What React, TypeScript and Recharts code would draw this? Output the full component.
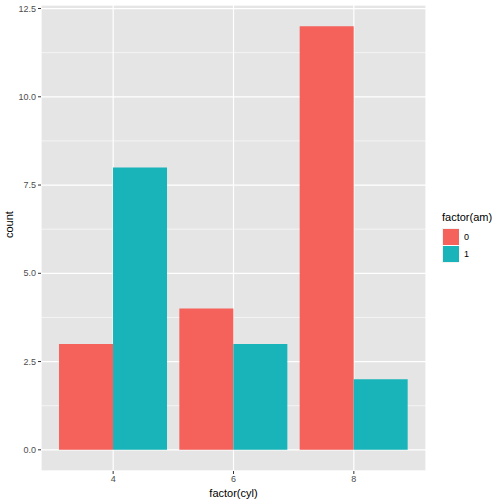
import { BarChart, Bar, XAxis, YAxis, CartesianGrid } from 'recharts';

const cyl = ['4', '6', '8'];
const am0 = [3, 4, 12];
const am1 = [8, 3, 2];
const yTicks = [0, 2.5, 5, 7.5, 10, 12.5];
const yMinor = [1.25, 3.75, 6.25, 8.75, 11.25];
const amLevels = ['0', '1'];

const COLORS = ['#F5625C', '#19B4B9'];
const FONT = '"Liberation Sans", Arial, Helvetica, sans-serif';

const data = cyl.map((c, i) => ({ cyl: c, am0: am0[i], am1: am1[i] }));

function AmLegend() {
  return (
    <div style={{ position: 'absolute', left: 442, top: 211, fontFamily: FONT, color: '#000' }}>
      <div style={{ fontSize: 11, marginBottom: 5 }}>factor(am)</div>
      {amLevels.map((lv, i) => (
        <div key={lv} style={{ display: 'flex', alignItems: 'center', height: 17, marginTop: i ? 0.5 : 0 }}>
          <div style={{ width: 17, height: 17, background: '#F2F2F2', display: 'flex', alignItems: 'center', justifyContent: 'center' }}>
            <div style={{ width: 16, height: 16, background: COLORS[i] }} />
          </div>
          <span style={{ fontSize: 9, marginLeft: 5, color: '#000' }}>{lv}</span>
        </div>
      ))}
    </div>
  );
}

export default function App() {
  return (
    <div style={{ position: 'absolute', left: 0, top: 0, width: 504, height: 504, background: '#fff' }}>
      <BarChart width={504} height={504} data={data}
        margin={{ top: 5, right: 78, bottom: 0, left: 0 }}
        barCategoryGap="5%" barGap={0}>
        <CartesianGrid stroke="#FFFFFF" strokeWidth={1.2} fill="#E5E5E5" />
        <CartesianGrid yAxisId="minor" stroke="#FFFFFF" strokeWidth={0.6} vertical={false} />
        <XAxis dataKey="cyl" height={33} padding={{ left: 12, right: 12 }}
          axisLine={false} tickLine={{ stroke: '#333333' }} tickSize={3}
          tick={{ fill: '#4D4D4D', fontSize: 9, fontFamily: FONT }}
          label={{ value: 'factor(cyl)', position: 'insideBottom', offset: 7, fill: '#000', fontSize: 11, fontFamily: FONT }} />
        <YAxis width={41} domain={[-0.6, 12.6]} ticks={yTicks} allowDataOverflow
          tickFormatter={(v: number) => v.toFixed(1)}
          axisLine={false} tickLine={{ stroke: '#333333' }} tickSize={3}
          tick={{ fill: '#4D4D4D', fontSize: 9, fontFamily: FONT }}
          label={{ value: 'count', angle: -90, position: 'insideLeft', offset: 9, fill: '#000', fontSize: 11, fontFamily: FONT }} />
        <YAxis yAxisId="minor" hide domain={[-0.6, 12.6]} ticks={yMinor} allowDataOverflow />
        <Bar dataKey="am0" fill={COLORS[0]} isAnimationActive={false} />
        <Bar dataKey="am1" fill={COLORS[1]} isAnimationActive={false} />
      </BarChart>
      <AmLegend />
    </div>
  );
}
